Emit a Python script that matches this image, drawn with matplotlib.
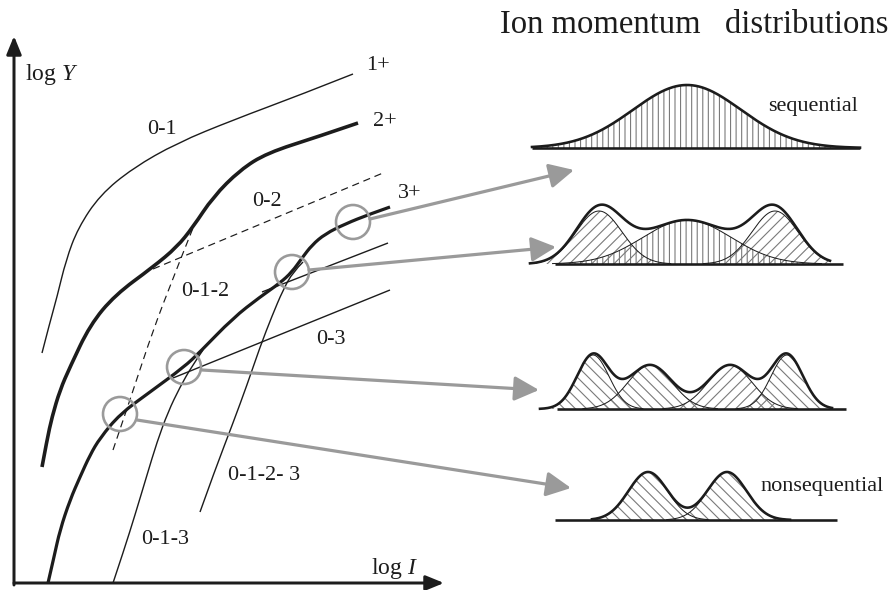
import numpy as np
import matplotlib
matplotlib.use("Agg")
import matplotlib.pyplot as plt
from matplotlib.path import Path
from matplotlib.patches import PathPatch, Circle, FancyArrowPatch

plt.rcParams['font.family'] = ['Liberation Serif', 'DejaVu Serif']
plt.rcParams['mathtext.fontset'] = 'custom'
plt.rcParams['mathtext.rm'] = 'Liberation Serif'
plt.rcParams['mathtext.it'] = 'Liberation Serif:italic'
plt.rcParams['hatch.linewidth'] = 0.8

# ---------------- data (schematic, in picture pixel units) ----------------
curve_1p = [(42, 353), (50, 322), (57, 297), (66, 260), (78, 228), (100, 195), (133, 168),
            (177, 143), (233, 120), (300, 95), (353, 74)]
curve_2p = [(42, 467), (47, 440), (52, 417), (60, 390), (70, 367), (90, 325), (115, 295),
            (153, 267), (177, 247), (193, 227), (213, 197), (240, 170), (267, 153),
            (317, 137), (358, 123)]
curve_3p = [(48, 583), (54, 557), (60, 530), (70, 500), (80, 477), (90, 455), (100, 438),
            (120, 414), (150, 392), (184, 367), (200, 352), (233, 318), (260, 297),
            (280, 283), (292, 272), (302, 258), (312, 245), (325, 234), (345, 224),
            (370, 214), (390, 207)]
line_03 = [(173, 378), (390, 290)]
line_023 = [(262, 292), (388, 243)]
line_013 = [(113, 583), (124, 550), (135, 515), (147, 475), (157, 442), (168, 412),
            (180, 387), (192, 366), (203, 350)]
line_0123 = [(200, 512), (215, 470), (233, 423), (247, 385), (260, 347), (272, 316),
             (283, 290), (293, 272), (303, 262)]
dash_02 = [(153, 269), (383, 173)]
dash_012 = [(113, 450), (130, 400), (148, 345), (167, 293), (193, 228)]

curve_labels = ["1+", "2+", "3+", "0-1", "0-2", "0-1-2", "0-3", "0-1-2- 3", "0-1-3"]
curve_label_xy = [(378, 66), (385, 122), (410, 193), (162, 130), (267, 202), (205, 291),
                  (331, 339), (264, 475), (165, 539)]

circle_centers = [(353, 222), (292, 272), (184, 367), (120, 414)]
arrow_starts = [(370, 219), (309, 270), (202, 370), (137, 420)]
arrow_ends = [(574, 170), (556, 247), (539, 390), (571, 488)]

# momentum distribution panels: baseline y, envelope x-range, baseline x-range
panel_base_y = [148, 264, 409, 520]
panel_env_x = [(532, 860), (530, 830), (540, 832), (592, 790)]
panel_line_x = [(532, 860), (555, 843), (557, 846), (555, 837)]
# components: centre, height, width
panel_centres = [[687], [599, 687, 775], [593, 650, 730, 787], [648, 727]]
panel_heights = [[63], [53, 44, 53], [54, 44, 44, 54], [48, 48]]
panel_widths = [[54], [23, 44, 23], [16, 22, 22, 16], [19.5, 19.5]]
panel_hatches = [['|||'], ['///', '|||', '///'], ['\\\\\\', '\\\\\\', '///', '\\\\\\'],
                 ['\\\\\\', '\\\\\\']]

title_text = "Ion momentum   distributions"
panel_labels = ["sequential", "nonsequential"]
panel_label_xy = [(813, 107), (822, 487)]

# ---------------- drawing ----------------
fig = plt.figure(figsize=(8.93, 5.90), dpi=100)
ax = fig.add_axes([0, 0, 1, 1])
ax.set_xlim(0, 893)
ax.set_ylim(590, 0)
ax.axis('off')

K = 0.72  # px -> pt
ink = '#1c1c1c'
grey = '#9a9a9a'


def smooth(pts):
    p = np.asarray(pts, float)
    n = len(p)
    verts = [p[0]]
    codes = [Path.MOVETO]
    if n == 2:
        verts.append(p[1]); codes.append(Path.LINETO)
    else:
        for i in range(1, n - 1):
            end = (p[i] + p[i + 1]) / 2 if i < n - 2 else p[n - 1]
            verts += [p[i], end]
            codes += [Path.CURVE3, Path.CURVE3]
    return Path(verts, codes)


def draw_curve(pts, lw, ls='-', color=ink):
    patch = PathPatch(smooth(pts), facecolor='none', edgecolor=color, lw=lw * K,
                      linestyle=ls, capstyle='butt', joinstyle='round')
    ax.add_patch(patch)


# axes arrows
ax.annotate('', xy=(14, 36), xytext=(14, 585),
            arrowprops=dict(arrowstyle='-|>,head_length=1.1,head_width=0.45',
                            color=ink, lw=3 * K, shrinkA=0, shrinkB=0))
ax.annotate('', xy=(444, 583), xytext=(14, 583),
            arrowprops=dict(arrowstyle='-|>,head_length=1.1,head_width=0.45',
                            color=ink, lw=3 * K, shrinkA=0, shrinkB=0))
ax.text(25, 80, 'log $Y$', fontsize=17, ha='left', va='baseline', color=ink)
ax.text(371, 574, 'log $I$', fontsize=17, ha='left', va='baseline', color=ink)

draw_curve(curve_1p, 1.4)
draw_curve(curve_2p, 3.6)
draw_curve(curve_3p, 3.2)
draw_curve(line_03, 1.4)
draw_curve(line_023, 1.4)
draw_curve(line_013, 1.4)
draw_curve(line_0123, 1.4)
draw_curve(dash_02, 1.2, ls=(0, (6, 4)))
draw_curve(dash_012, 1.2, ls=(0, (6, 4)))

for lab, (x, y) in zip(curve_labels, curve_label_xy):
    ax.text(x, y, lab, fontsize=16, ha='center', va='center', color=ink)

for (cx, cy) in circle_centers:
    ax.add_patch(Circle((cx, cy), 17, facecolor='none', edgecolor=grey, lw=2.6 * K))

for (sx, sy), (ex, ey) in zip(arrow_starts, arrow_ends):
    ax.add_patch(FancyArrowPatch((sx, sy), (ex, ey),
                                 arrowstyle='-|>,head_length=15,head_width=7.5',
                                 mutation_scale=1, color=grey, lw=3.2 * K,
                                 shrinkA=0, shrinkB=0))

# distributions
for by, (ex0, ex1), (lx0, lx1), cs, hs, ws, hts in zip(
        panel_base_y, panel_env_x, panel_line_x, panel_centres, panel_heights,
        panel_widths, panel_hatches):
    x = np.linspace(ex0, ex1, 600)
    total = np.zeros_like(x)
    for c, h, w, hat in zip(cs, hs, ws, hts):
        g = h * np.exp(-0.5 * ((x - c) / w) ** 2)
        total += g
        m = g > 0.4
        ax.fill_between(x[m], by, by - g[m], facecolor='none', edgecolor='#7a7a7a',
                        hatch=hat, linewidth=0)
        if len(cs) > 1:
            ax.plot(x[m], by - g[m], color=ink, lw=1.0 * K)
    ax.plot([lx0, lx1], [by, by], color=ink, lw=2.6 * K, solid_capstyle='butt')
    ax.plot(x, by - total, color=ink, lw=2.6 * K)

ax.text(500, 33, title_text, fontsize=23.5, ha='left', va='baseline', color=ink)
for lab, (x, y) in zip(panel_labels, panel_label_xy):
    ax.text(x, y, lab, fontsize=16, ha='center', va='center', color=ink)

fig.savefig('out.png', dpi=100)
